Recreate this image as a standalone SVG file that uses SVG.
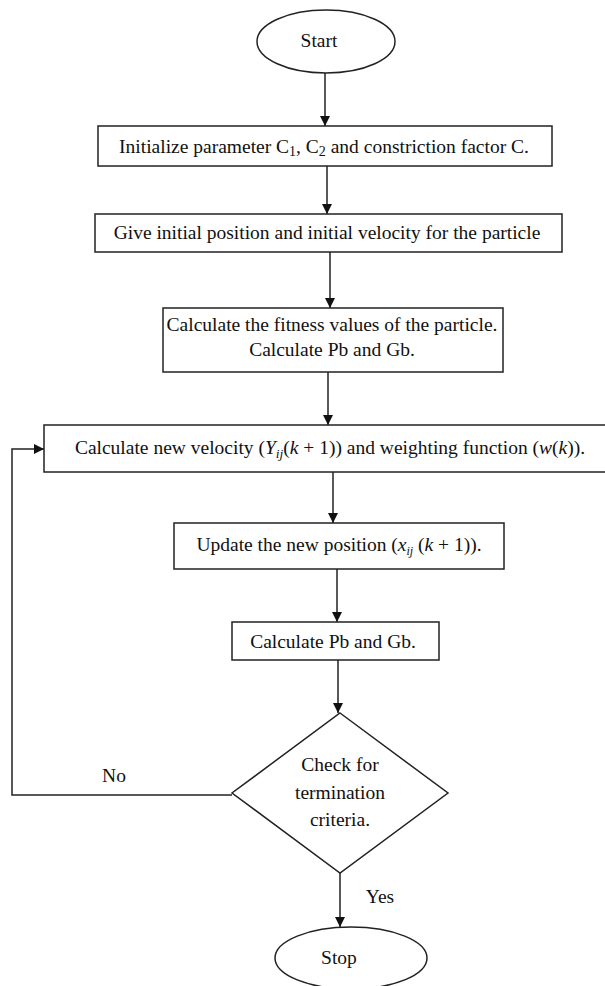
<svg xmlns="http://www.w3.org/2000/svg" width="605" height="986" viewBox="0 0 605 986">
<style>
.s{fill:#fff;stroke:#222;stroke-width:1.5}
.t{font-family:"Liberation Serif","Times New Roman",serif;font-size:19.5px;fill:#111;text-anchor:middle}
.m{font-style:italic}
.c{fill:none;stroke:#222;stroke-width:1.5}
</style>
<defs>
<marker id="a" viewBox="0 0 10 10" refX="10" refY="5" markerWidth="10" markerHeight="10" markerUnits="userSpaceOnUse" orient="auto">
<path d="M0,0 L10,5 L0,10 z" fill="#111"/>
</marker>
</defs>
<rect width="605" height="986" fill="#fff"/>
<g id="connectors">
<line class="c" x1="325" y1="73" x2="325" y2="126" marker-end="url(#a)"/>
<line class="c" x1="327" y1="166" x2="327" y2="214" marker-end="url(#a)"/>
<line class="c" x1="330" y1="252" x2="330" y2="308" marker-end="url(#a)"/>
<line class="c" x1="328" y1="372" x2="328" y2="425" marker-end="url(#a)"/>
<line class="c" x1="333" y1="472" x2="333" y2="523" marker-end="url(#a)"/>
<line class="c" x1="337" y1="569" x2="337" y2="622" marker-end="url(#a)"/>
<line class="c" x1="338" y1="660" x2="338" y2="713" marker-end="url(#a)"/>
<line class="c" x1="340" y1="873" x2="340" y2="927" marker-end="url(#a)"/>
<polyline class="c" points="232,795 12,795 12,449 44,449" marker-end="url(#a)"/>
<text class="t" x="114" y="782" font-size="20.5">No</text>
<text class="t" x="380" y="903" font-size="19">Yes</text>
</g>
<g id="start">
<ellipse class="s" cx="326" cy="41.5" rx="69" ry="31.5"/>
<text class="t" x="319" y="47" font-size="21">Start</text>
</g>
<g id="init">
<rect class="s" x="98" y="126" width="454" height="40"/>
<text class="t" x="324" y="153">Initialize parameter C<tspan font-size="14" dy="3">1</tspan><tspan dy="-3">, C</tspan><tspan font-size="14" dy="3">2</tspan><tspan dy="-3"> and constriction factor C.</tspan></text>
</g>
<g id="give">
<rect class="s" x="95" y="214" width="467" height="38"/>
<text class="t" x="327" y="239" font-size="19">Give initial position and initial velocity for the particle</text>
</g>
<g id="fitness">
<rect class="s" x="163" y="308" width="340" height="64"/>
<text class="t" x="332" y="331" font-size="16.5">Calculate the fitness values of the particle.</text>
<text class="t" x="332" y="356" font-size="16.5">Calculate Pb and Gb.</text>
</g>
<g id="velocity">
<rect class="s" x="44" y="425" width="570" height="47"/>
<text class="t" x="330" y="454" font-size="20.3">Calculate new velocity (<tspan class="m">Y</tspan><tspan class="m" font-size="13.5" dy="4">ij</tspan><tspan dy="-4">(</tspan><tspan class="m">k</tspan> + 1)) and weighting function (<tspan class="m">w</tspan>(<tspan class="m">k</tspan>)).</text>
</g>
<g id="update">
<rect class="s" x="174" y="523" width="330" height="46"/>
<text class="t" x="339" y="551" font-size="17.8">Update the new position (<tspan class="m">x</tspan><tspan class="m" font-size="12" dy="4">ij</tspan><tspan dy="-4"> (</tspan><tspan class="m">k</tspan> + 1)).</text>
</g>
<g id="calcpb">
<rect class="s" x="232" y="622" width="207" height="38"/>
<text class="t" x="333" y="648" font-size="17.8">Calculate Pb and Gb.</text>
</g>
<g id="check">
<polygon class="s" points="340,713 448,793 340,873 232,793"/>
<text class="t" x="340" y="771">Check for</text>
<text class="t" x="340" y="799">termination</text>
<text class="t" x="340" y="826">criteria.</text>
</g>
<g id="stop">
<ellipse class="s" cx="351" cy="958" rx="76" ry="31"/>
<text class="t" x="339" y="964" font-size="20.5">Stop</text>
</g>
</svg>
